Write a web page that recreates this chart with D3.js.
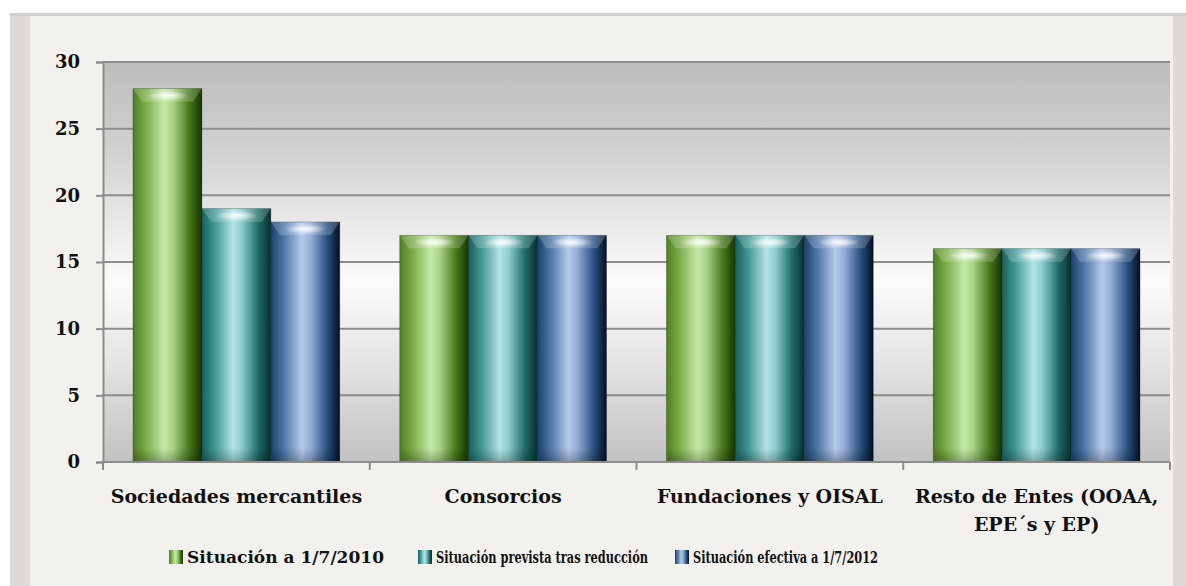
<!DOCTYPE html>
<html>
<head>
<meta charset="utf-8">
<script src="https://cdn.jsdelivr.net/npm/d3@7"></script>
<style>
  body { margin: 0; background: #fff; }
  svg text { font-family: "Palatino Linotype", "Book Antiqua", "DejaVu Serif", serif; font-weight: bold; fill: #111; }
</style>
</head>
<body>
<svg width="1186" height="586"></svg>
<script>
// datos
const categories = ["Sociedades mercantiles", "Consorcios", "Fundaciones y OISAL", "Resto de Entes (OOAA,|EPE´s y EP)"];
const seriesNames = ["Situación a 1/7/2010", "Situación prevista tras reducción", "Situación efectiva a 1/7/2012"];
const situacion2010 = [28, 17, 17, 16];
const prevista = [19, 17, 17, 16];
const efectiva2012 = [18, 17, 17, 16];
const yTicks = [0, 5, 10, 15, 20, 25, 30];

const svg = d3.select("svg");
const width = +svg.attr("width");
const height = +svg.attr("height");

const margin = { left: 103, right: 16, top: 62, bottom: 124 };
const x0 = d3.scaleBand().domain(categories).range([margin.left, width - margin.right])
  .paddingInner(0.225).paddingOuter(0.1125);
const x1 = d3.scaleBand().domain(seriesNames).range([0, x0.bandwidth()]);
const y = d3.scaleLinear().domain([0, 30]).range([height - margin.bottom, margin.top]);

const colorSets = {
  "Situación a 1/7/2010": ["#4f7f22", "#7aaa46", "#c6e8aa", "#a9d385", "#467618", "#163405"],
  "Situación prevista tras reducción": ["#17625f", "#3f9592", "#b3e3e5", "#8ccdd0", "#1f6b68", "#06302e"],
  "Situación efectiva a 1/7/2012": ["#1b416b", "#4a74a4", "#b5c9ea", "#93acd6", "#27507f", "#030f22"]
};

const defs = svg.append("defs");

// gradientes de las barras
seriesNames.forEach((s, i) => {
  const c = colorSets[s];
  const g = defs.append("linearGradient").attr("id", "bar" + i)
    .attr("x1", 0).attr("x2", 1).attr("y1", 0).attr("y2", 0);
  [[0, c[0]], [0.18, c[1]], [0.45, c[2]], [0.58, c[3]], [0.82, c[4]], [1, c[5]]].forEach(d => {
    g.append("stop").attr("offset", d[0]).attr("stop-color", d[1]);
  });
});

const bg = defs.append("linearGradient").attr("id", "plotbg")
  .attr("x1", 0).attr("x2", 0).attr("y1", 0).attr("y2", 1);
[[0, "#bdbdbd"], [0.2, "#cfcfcf"], [0.55, "#fbfbfb"], [0.75, "#e4e4e4"], [1, "#c2c2c2"]].forEach(d => {
  bg.append("stop").attr("offset", d[0]).attr("stop-color", d[1]);
});

const capGrad = defs.append("radialGradient").attr("id", "cap");
capGrad.append("stop").attr("offset", 0).attr("stop-color", "#fff").attr("stop-opacity", 0.95);
capGrad.append("stop").attr("offset", 1).attr("stop-color", "#fff").attr("stop-opacity", 0);

const baseGrad = defs.append("linearGradient").attr("id", "base")
  .attr("x1", 0).attr("x2", 0).attr("y1", 0).attr("y2", 1);
baseGrad.append("stop").attr("offset", 0).attr("stop-color", "#000").attr("stop-opacity", 0);
baseGrad.append("stop").attr("offset", 1).attr("stop-color", "#000").attr("stop-opacity", 0.25);

// fondo tipo papel
svg.append("rect").attr("x", 10).attr("y", 13).attr("width", width - 10).attr("height", height - 13)
  .attr("fill", "#dedbd6");
svg.append("rect").attr("x", 10).attr("y", 13).attr("width", width - 10).attr("height", 3)
  .attr("fill", "#cfcfcf");
svg.append("rect").attr("x", 30).attr("y", 16).attr("width", 1143).attr("height", height - 16)
  .attr("fill", "#f3f1ee");

// área del gráfico
svg.append("rect")
  .attr("x", margin.left).attr("y", margin.top)
  .attr("width", width - margin.right - margin.left)
  .attr("height", y(0) - margin.top)
  .attr("fill", "url(#plotbg)");

// líneas de división
svg.append("g")
  .selectAll("line")
  .data(yTicks.filter(d => d > 0))
  .join("line")
  .attr("x1", margin.left).attr("x2", width - margin.right)
  .attr("y1", d => y(d)).attr("y2", d => y(d))
  .attr("stroke", "#8c8c8c").attr("stroke-width", 2);

// eje Y
const yAxis = svg.append("g")
  .attr("transform", `translate(${margin.left},0)`)
  .call(d3.axisLeft(y).tickValues(yTicks).tickSize(7).tickPadding(16));
yAxis.select(".domain").attr("stroke", "#8c8c8c").attr("stroke-width", 2);
yAxis.selectAll(".tick line").attr("stroke", "#8c8c8c").attr("stroke-width", 2);
yAxis.selectAll(".tick text").attr("font-size", 18).attr("font-family", null).attr("fill", "#111");

// barras
const groups = svg.append("g")
  .selectAll("g")
  .data(categories.map((c, i) => ({ c, vals: [situacion2010[i], prevista[i], efectiva2012[i]] })))
  .join("g")
  .attr("transform", d => `translate(${x0(d.c)},0)`);

const bars = groups.selectAll("g")
  .data(d => d.vals.map((v, i) => ({ s: seriesNames[i], i, v })))
  .join("g");

bars.append("rect")
  .attr("x", d => x1(d.s)).attr("y", d => y(d.v))
  .attr("width", x1.bandwidth()).attr("height", d => y(0) - y(d.v))
  .attr("fill", d => `url(#bar${d.i})`)
  .attr("stroke", "rgba(0,0,0,0.35)").attr("stroke-width", 0.8);

// bisel superior
bars.append("path")
  .attr("d", d => {
    const x = x1(d.s), w = x1.bandwidth(), t = y(d.v);
    return `M${x},${t} L${x + w},${t} L${x + w - 9},${t + 13} L${x + 9},${t + 13} Z`;
  })
  .attr("fill", "#fff").attr("opacity", 0.2);
bars.append("ellipse")
  .attr("cx", d => x1(d.s) + x1.bandwidth() * 0.5)
  .attr("cy", d => y(d.v) + 7)
  .attr("rx", x1.bandwidth() * 0.3).attr("ry", 5)
  .attr("fill", "url(#cap)");

// sombra inferior
bars.append("rect")
  .attr("x", d => x1(d.s) + 1).attr("y", y(0) - 14)
  .attr("width", x1.bandwidth() - 2).attr("height", 14)
  .attr("fill", "url(#base)");

// eje X
const xAxisG = svg.append("g").attr("transform", `translate(0,${y(0)})`);
xAxisG.append("line")
  .attr("x1", margin.left).attr("x2", width - margin.right)
  .attr("stroke", "#8c8c8c").attr("stroke-width", 2);
xAxisG.selectAll(".tk")
  .data([margin.left].concat(categories.map(c => x0(c) + x0.bandwidth() + x0.step() * 0.1125)))
  .join("line")
  .attr("x1", d => d).attr("x2", d => d)
  .attr("y1", 0).attr("y2", 8)
  .attr("stroke", "#8c8c8c").attr("stroke-width", 2);

const xLabels = xAxisG.selectAll(".lbl")
  .data(categories)
  .join("text")
  .attr("text-anchor", "middle")
  .attr("font-size", 19)
  .attr("transform", d => `translate(${x0(d) + x0.bandwidth() / 2},41)`);
xLabels.selectAll("tspan")
  .data(d => d.split("|"))
  .join("tspan")
  .attr("x", 0)
  .attr("dy", (d, i) => i === 0 ? 0 : 28)
  .text(d => d);

// leyenda
const legendX = [169, 418, 675];
const legendW = [197, 212, 185];
const legend = svg.append("g").selectAll("g")
  .data(seriesNames)
  .join("g")
  .attr("transform", (d, i) => `translate(${legendX[i]},557)`);
legend.append("rect")
  .attr("x", 0).attr("y", -7).attr("width", 14).attr("height", 14)
  .attr("fill", (d, i) => `url(#bar${i})`);
legend.append("text")
  .attr("x", 18).attr("dy", "0.35em")
  .attr("font-size", 17)
  .attr("textLength", (d, i) => legendW[i])
  .attr("lengthAdjust", "spacingAndGlyphs")
  .text(d => d);
</script>
</body>
</html>
